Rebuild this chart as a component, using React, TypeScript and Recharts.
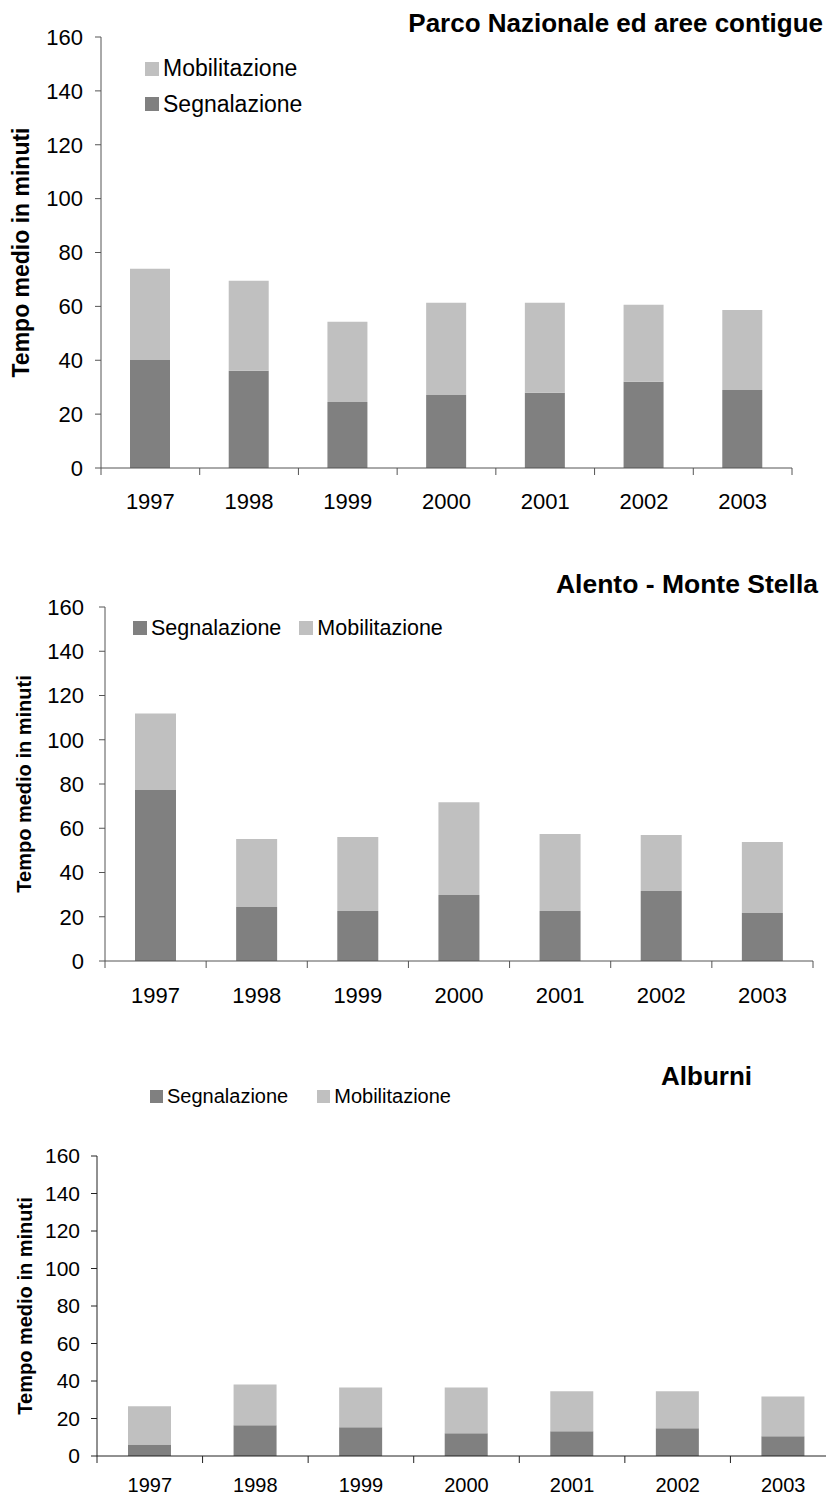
import { BarChart, Bar, XAxis, YAxis, Legend } from 'recharts';

// tempo medio (minuti) per anno
const years = ['1997', '1998', '1999', '2000', '2001', '2002', '2003'];
const yTicks = [0, 20, 40, 60, 80, 100, 120, 140, 160];

const parcoSegnalazione = [40.1, 36.1, 24.5, 27.1, 27.9, 32.0, 29.0];
const parcoMobilitazione = [33.9, 33.4, 29.8, 34.2, 33.4, 28.6, 29.7];

const alentoSegnalazione = [77.3, 24.4, 22.6, 29.8, 22.6, 31.6, 21.7];
const alentoMobilitazione = [34.6, 30.7, 33.4, 42.0, 34.8, 25.3, 32.1];

const alburniSegnalazione = [6.2, 16.4, 15.3, 12.1, 13.2, 14.8, 10.5];
const alburniMobilitazione = [20.3, 21.8, 21.3, 24.5, 21.3, 19.7, 21.3];

const DARK = '#808080';
const LIGHT = '#C0C0C0';
const FONT = '"Liberation Sans", Arial, Helvetica, sans-serif';
const Y_LABEL = 'Tempo medio in minuti';

const toRows = (segn: number[], mob: number[]) =>
  years.map((year, i) => ({ year, segnalazione: segn[i], mobilitazione: mob[i] }));

// tick della categoria: testo al centro, lineette ai bordi della banda
const XTick = (props: any) => {
  const { x, y, payload, index, band, count, fontSize, dy, stroke } = props;
  const i = index ?? payload?.index ?? 0;
  return (
    <g>
      <line x1={x - band / 2} y1={y} x2={x - band / 2} y2={y + 7} stroke={stroke} />
      {i === count - 1 && <line x1={x + band / 2} y1={y} x2={x + band / 2} y2={y + 7} stroke={stroke} />}
      <text x={x} y={y + dy} textAnchor="middle" fontSize={fontSize} fill="#000">
        {payload.value}
      </text>
    </g>
  );
};

type LegendItem = { name: string; color: string };

const LegendBox = ({ items, vertical, fontSize, square, itemGap, rowHeight }: any) => (
  <div
    style={{
      display: 'flex',
      flexDirection: vertical ? 'column' : 'row',
      fontSize,
      color: '#000',
      fontFamily: FONT,
    }}
  >
    {items.map((it: LegendItem) => (
      <div
        key={it.name}
        style={{ display: 'flex', alignItems: 'center', height: rowHeight, marginRight: vertical ? 0 : itemGap }}
      >
        <span style={{ display: 'inline-block', width: square, height: square, background: it.color, marginRight: 4 }} />
        <span style={{ whiteSpace: 'nowrap' }}>{it.name}</span>
      </div>
    ))}
  </div>
);

const Panel = ({ cfg }: { cfg: any }) => {
  const data = toRows(cfg.segn, cfg.mob);
  const plotW = cfg.width - cfg.yAxisWidth - cfg.margin.right;
  const band = plotW / years.length;
  const plotTop = cfg.margin.top;
  const plotH = cfg.height - cfg.margin.top - cfg.margin.bottom - 40;

  return (
    <div
      style={{
        position: 'absolute',
        left: 0,
        top: cfg.top,
        width: 826,
        height: cfg.height,
        overflow: 'hidden',
      }}
    >
      <BarChart width={cfg.width} height={cfg.height} data={data} margin={cfg.margin}>
        <XAxis
          dataKey="year"
          height={40}
          tickSize={0}
          tickMargin={0}
          tickLine={false}
          interval={0}
          axisLine={{ stroke: cfg.axis }}
          tick={(p: any) => (
            <XTick {...p} band={band} count={years.length} fontSize={cfg.xFont} dy={cfg.xDy} stroke={cfg.axis} />
          )}
        />
        <YAxis
          domain={[0, 160]}
          ticks={yTicks}
          interval={0}
          width={cfg.yAxisWidth}
          tickSize={6}
          tickMargin={cfg.yTickMargin}
          axisLine={{ stroke: cfg.axis }}
          tickLine={{ stroke: cfg.axis }}
          tick={{ fill: '#000', fontSize: cfg.yFont }}
          label={{
            content: () => (
              <text
                x={cfg.labelX}
                y={plotTop + plotH / 2}
                transform={`rotate(-90, ${cfg.labelX}, ${plotTop + plotH / 2})`}
                textAnchor="middle"
                fontSize={cfg.labelFont}
                fontWeight="bold"
                fill="#000"
              >
                {Y_LABEL}
              </text>
            ),
          }}
        />
        <Legend
          layout="horizontal"
          verticalAlign="middle"
          align="center"
          wrapperStyle={{ left: cfg.legend.left, top: cfg.legend.top, width: 'auto' }}
          content={() => <LegendBox {...cfg.legend} />}
        />
        <Bar dataKey="segnalazione" name="Segnalazione" stackId="a" fill={DARK} barSize={cfg.barSize} isAnimationActive={false} />
        <Bar dataKey="mobilitazione" name="Mobilitazione" stackId="a" fill={LIGHT} barSize={cfg.barSize} isAnimationActive={false} />
      </BarChart>
      <div
        style={{
          position: 'absolute',
          top: cfg.title.top,
          left: cfg.title.left,
          right: cfg.title.right,
          fontSize: cfg.title.size,
          lineHeight: `${cfg.title.size}px`,
          fontWeight: 'bold',
          whiteSpace: 'nowrap',
          color: '#000',
        }}
      >
        {cfg.title.text}
      </div>
    </div>
  );
};

const panels = [
  {
    top: 0,
    width: 826,
    height: 540,
    margin: { top: 37, right: 34, bottom: 32, left: 0 },
    yAxisWidth: 101,
    yTickMargin: 12,
    barSize: 40,
    axis: '#555',
    xFont: 22,
    xDy: 41,
    yFont: 22,
    labelFont: 23,
    labelX: 29,
    segn: parcoSegnalazione,
    mob: parcoMobilitazione,
    title: { text: 'Parco Nazionale ed aree contigue', top: 9.5, right: 3, size: 26 },
    legend: {
      left: 145,
      top: 51,
      vertical: true,
      fontSize: 23,
      square: 14,
      itemGap: 0,
      rowHeight: 35.5,
      items: [
        { name: 'Mobilitazione', color: LIGHT },
        { name: 'Segnalazione', color: DARK },
      ],
    },
  },
  {
    top: 560,
    width: 826,
    height: 480,
    margin: { top: 47, right: 13, bottom: 39, left: 0 },
    yAxisWidth: 105,
    yTickMargin: 15,
    barSize: 41,
    axis: '#555',
    xFont: 22,
    xDy: 42,
    yFont: 22,
    labelFont: 20,
    labelX: 31,
    segn: alentoSegnalazione,
    mob: alentoMobilitazione,
    title: { text: 'Alento - Monte Stella', top: 10.5, right: 8, size: 26.5 },
    legend: {
      left: 133,
      top: 53,
      vertical: false,
      fontSize: 21.5,
      square: 14,
      itemGap: 18,
      rowHeight: 30,
      items: [
        { name: 'Segnalazione', color: DARK },
        { name: 'Mobilitazione', color: LIGHT },
      ],
    },
  },
  {
    top: 1060,
    width: 836,
    height: 436,
    margin: { top: 96, right: 0, bottom: 0, left: 0 },
    yAxisWidth: 97,
    yTickMargin: 11,
    barSize: 43,
    axis: '#222',
    xFont: 20,
    xDy: 36,
    yFont: 21,
    labelFont: 20,
    labelX: 32,
    segn: alburniSegnalazione,
    mob: alburniMobilitazione,
    title: { text: 'Alburni', top: 3, left: 661, size: 26 },
    legend: {
      left: 150,
      top: 21,
      vertical: false,
      fontSize: 20,
      square: 13,
      itemGap: 29,
      rowHeight: 30,
      items: [
        { name: 'Segnalazione', color: DARK },
        { name: 'Mobilitazione', color: LIGHT },
      ],
    },
  },
];

export default function App() {
  return (
    <div
      style={{
        position: 'absolute',
        left: 0,
        top: 0,
        width: 826,
        height: 1496,
        background: '#fff',
        fontFamily: FONT,
        overflow: 'hidden',
      }}
    >
      {panels.map((cfg, i) => (
        <Panel key={i} cfg={cfg} />
      ))}
    </div>
  );
}
